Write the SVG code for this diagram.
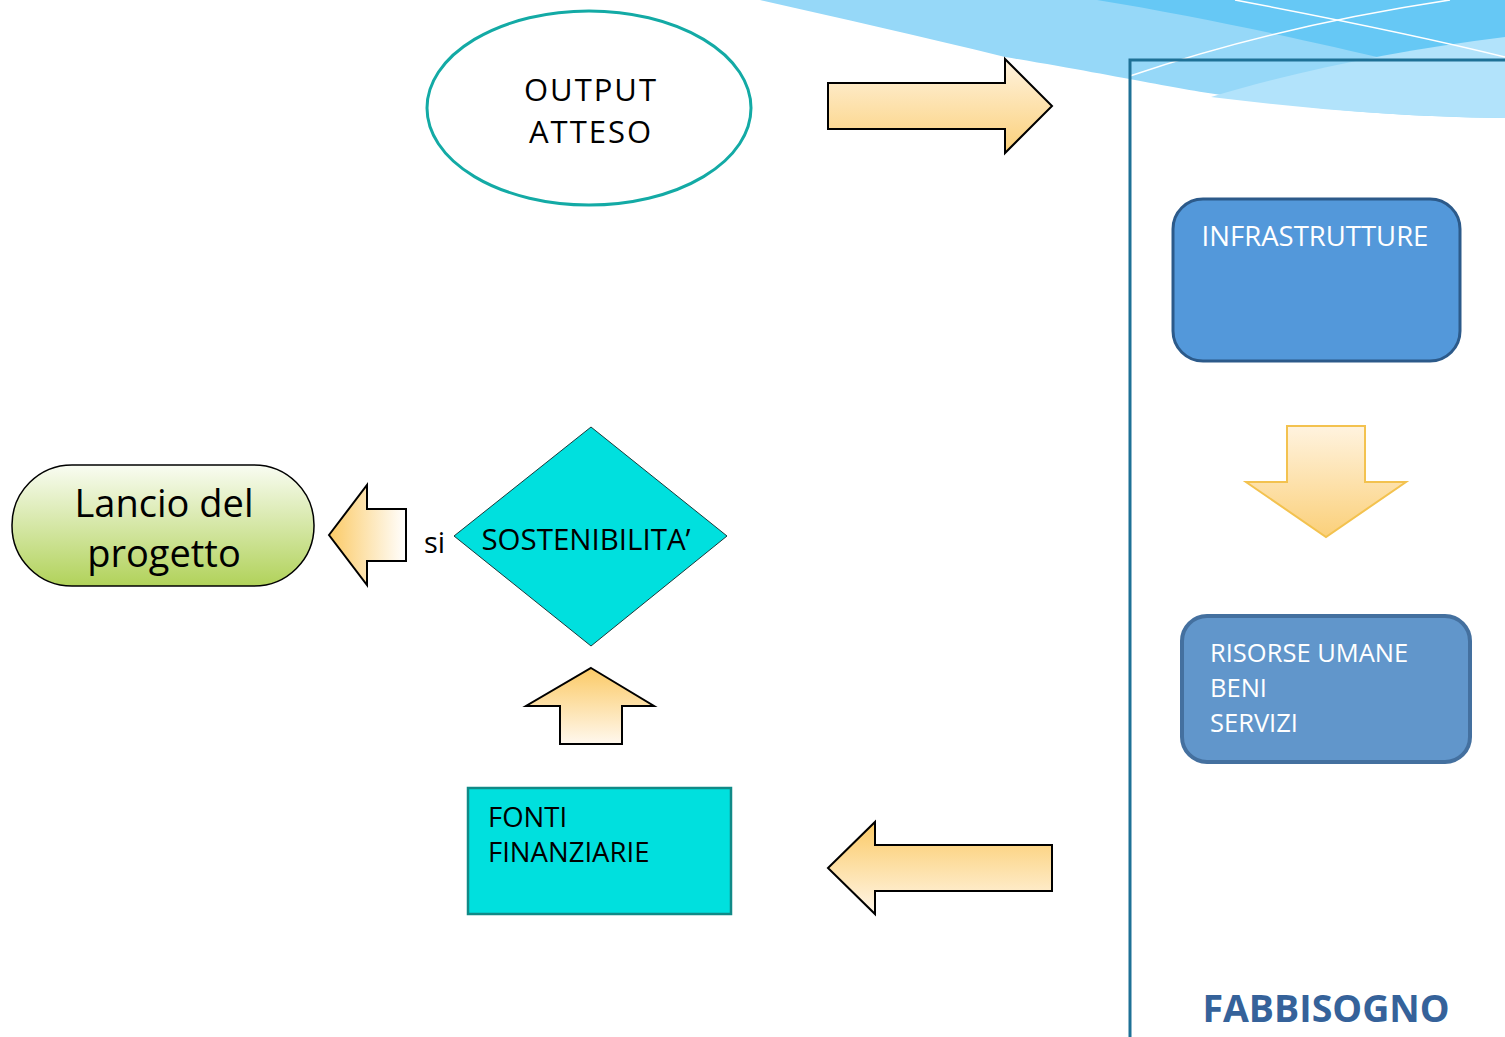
<svg xmlns="http://www.w3.org/2000/svg" width="1505" height="1037" viewBox="0 0 1505 1037">
<style>
.t{font-family:"Open Sans","Noto Sans",sans-serif;}
.blk{fill:#000;}
.wht{fill:#fff;}
.arr{stroke:#000;stroke-width:2;stroke-linejoin:miter;}
</style>
<defs>
<linearGradient id="gDown" x1="0" y1="0" x2="0" y2="1"><stop offset="0" stop-color="#fff3df"/><stop offset="1" stop-color="#fbd07a"/></linearGradient>
<linearGradient id="gUp" x1="0" y1="1" x2="0" y2="0"><stop offset="0" stop-color="#fff8ee"/><stop offset="1" stop-color="#fbca66"/></linearGradient>
<linearGradient id="gLeft" x1="0" y1="0" x2="1" y2="0"><stop offset="0" stop-color="#fbca66"/><stop offset="1" stop-color="#ffffff"/></linearGradient>
<linearGradient id="gLancio" x1="0" y1="0" x2="0" y2="1"><stop offset="0" stop-color="#f9fcf2"/><stop offset="1" stop-color="#b1d25a"/></linearGradient>
<linearGradient id="gBig" x1="0" y1="0" x2="0" y2="1"><stop offset="0" stop-color="#fbca66"/><stop offset="1" stop-color="#fff6e8"/></linearGradient>
</defs>
<rect width="1505" height="1037" fill="#fff"/>
<g id="decor">
<path d="M760,0 L1505,0 L1505,118 C1400,117 1300,108 1235,97 C1180,90 1130,78 1005,57 C920,36 840,18 760,0 Z" fill="#96d8f8"/>
<path d="M1097,0 L1505,0 L1505,88 C1400,62 1250,25 1097,0 Z" fill="#66c8f5"/>
<path d="M1211,97 C1300,70 1400,50 1505,37 L1505,118 C1400,117 1300,108 1211,97 Z" fill="#b2e3fb"/>
<path d="M1130,76 C1230,42 1330,18 1450,0" fill="none" stroke="#fff" stroke-width="1.5"/>
<path d="M1235,0 C1330,18 1420,36 1505,57" fill="none" stroke="#fff" stroke-width="1.5"/>
</g>
<g id="frame">
<path d="M1130,1037 L1130,60 L1505,60" fill="none" stroke="#1e7196" stroke-width="3"/>
</g>
<g id="connectors">
<path class="arr" d="M828,83 L1005,83 L1005,59 L1052,106 L1005,153 L1005,129 L828,129 Z" fill="url(#gDown)"/>
<path d="M1287,426 L1365,426 L1365,482 L1406,482 L1326,537 L1246,482 L1287,482 Z" fill="url(#gDown)" stroke="#f3c24f" stroke-width="2"/>
<path class="arr" d="M329,535 L367,485 L367,509 L406,509 L406,561 L367,561 L367,585 Z" fill="url(#gLeft)"/>
<path class="arr" d="M591,668 L654,706 L622,706 L622,744 L560,744 L560,706 L526,706 Z" fill="url(#gUp)"/>
<path class="arr" d="M828,868 L875,822 L875,845 L1052,845 L1052,891 L875,891 L875,914 Z" fill="url(#gBig)"/>
<text class="t blk" x="424" y="553" font-size="29">si</text>
</g>
<g id="output">
<ellipse cx="589" cy="108" rx="162" ry="97" fill="#fff" stroke="#13aaa5" stroke-width="3"/>
<text class="t blk" x="591" y="101" font-size="31" letter-spacing="2" text-anchor="middle">OUTPUT</text>
<text class="t blk" x="591" y="143" font-size="31" letter-spacing="2" text-anchor="middle">ATTESO</text>
</g>
<g id="infrastrutture">
<rect x="1173" y="199" width="287" height="162" rx="30" fill="#5398da" stroke="#2c5a8a" stroke-width="3"/>
<text class="t wht" x="1315" y="246" font-size="27.5" text-anchor="middle">INFRASTRUTTURE</text>
</g>
<g id="risorse">
<rect x="1182" y="616" width="288" height="146" rx="25" fill="#6196cb" stroke="#44709f" stroke-width="4"/>
<text class="t wht" x="1210" y="662" font-size="25.5">RISORSE UMANE</text>
<text class="t wht" x="1210" y="697" font-size="25.5">BENI</text>
<text class="t wht" x="1210" y="732" font-size="25.5">SERVIZI</text>
</g>
<g id="fabbisogno">
<text class="t" x="1326" y="1022" font-size="37.5" font-weight="bold" fill="#35629a" text-anchor="middle">FABBISOGNO</text>
</g>
<g id="lancio">
<rect x="12" y="465" width="302" height="121" rx="60" fill="url(#gLancio)" stroke="#000" stroke-width="1.5"/>
<text class="t blk" x="164" y="517" font-size="38" text-anchor="middle">Lancio del</text>
<text class="t blk" x="164" y="567" font-size="38" text-anchor="middle">progetto</text>
</g>
<g id="sostenibilita">
<path d="M591,427 L727,536 L591,646 L454,536 Z" fill="#00e0de" stroke="#1a3a3a" stroke-width="1"/>
<text class="t blk" x="586" y="550" font-size="29.5" text-anchor="middle">SOSTENIBILITA’</text>
</g>
<g id="fonti">
<rect x="468" y="788" width="263" height="126" fill="#00e0de" stroke="#108a87" stroke-width="2.5"/>
<text class="t blk" x="488" y="827" font-size="27.5">FONTI</text>
<text class="t blk" x="488" y="862" font-size="27.5">FINANZIARIE</text>
</g>
</svg>
